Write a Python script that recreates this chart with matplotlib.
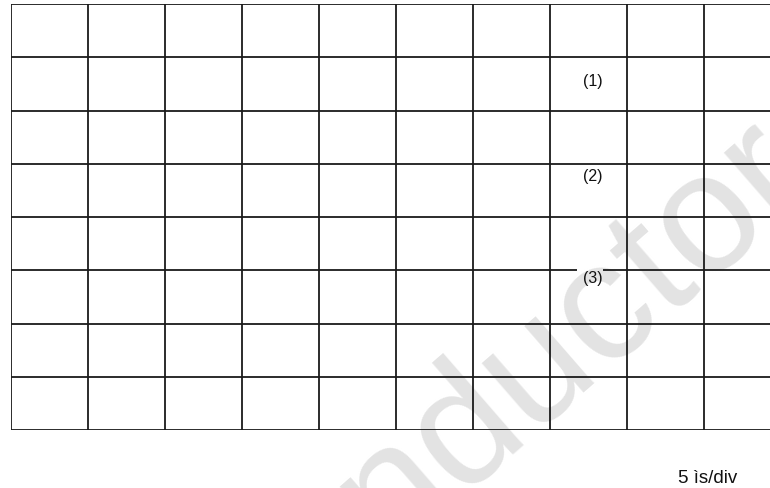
import matplotlib
matplotlib.use("Agg")
import matplotlib.pyplot as plt
import numpy as np

# Oscilloscope graticule: 10 horizontal divisions (last one cut), 8 vertical
x_divs = [0, 1, 2, 3, 4, 5, 6, 7, 8, 9]
y_divs = [0, 1, 2, 3, 4, 5, 6, 7, 8]
trace_labels = ["(1)", "(2)", "(3)"]
label_x = [7.56, 7.56, 7.56]
label_y = [6.56, 4.78, 2.86]
time_base = "5 ìs/div"
watermark = "Semiconductor"

plt.rcParams['font.family'] = ['Liberation Sans', 'DejaVu Sans']

fig = plt.figure(figsize=(7.70, 4.89), dpi=100)
ax = fig.add_axes([10.8 / 770, (489 - 431) / 489, 1 - 10.8 / 770, (431 - 5) / 489])
xmax = (770 - 10.8) / 77.0
ax.set_xlim(0, xmax)
ax.set_ylim(0, 8)
ax.axis('off')

lc = '#1a1a1a'
lw = 1.3
ax.vlines(x_divs, 0, 8, colors=lc, linewidth=lw, zorder=2)
for y in y_divs:
    if y == 3:
        ax.hlines(y, 0, 7.35, colors=lc, linewidth=lw, zorder=2)
        ax.hlines(y, 7.69, xmax, colors=lc, linewidth=lw, zorder=2)
    else:
        ax.hlines(y, 0, xmax, colors=lc, linewidth=lw, zorder=2)

for t, x, y in zip(trace_labels, label_x, label_y):
    ax.text(x, y, t, ha='center', va='center', fontsize=11.5, color='#111111', zorder=3)

# watermark (behind the graticule)
ax.text(815 / 770, 1 - 185 / 489, watermark, transform=fig.transFigure,
        rotation=41, rotation_mode='anchor', ha='right', va='baseline',
        fontsize=122, color='#e3e3e3', zorder=0.5, clip_on=False)

fig.text(707.5 / 770, 1 - 479 / 489, time_base, ha='center', va='center',
         fontsize=13.5, color='#111111')

fig.savefig('out.png', dpi=100)
